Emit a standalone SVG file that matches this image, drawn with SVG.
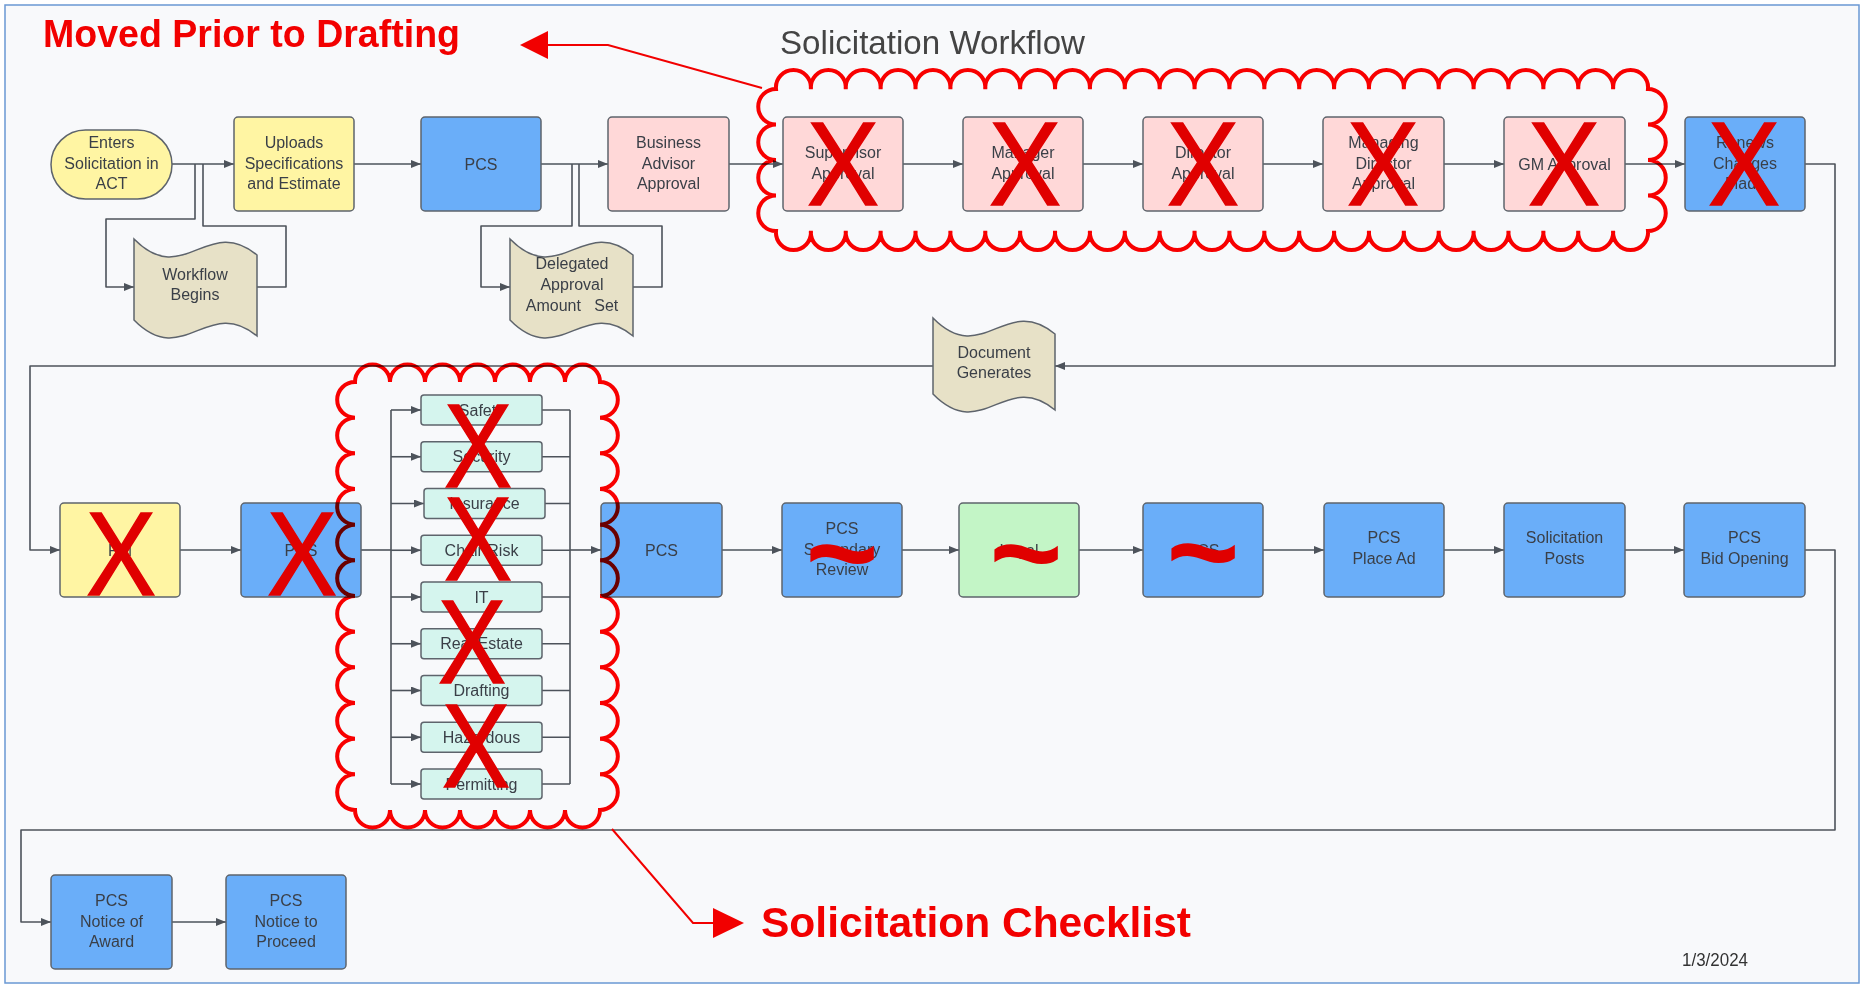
<svg xmlns="http://www.w3.org/2000/svg" width="1864" height="987" viewBox="0 0 1864 987">
<style>
.bg{fill:#f8f9fb;stroke:#6a98d4;stroke-width:1.5}
.n{stroke:#5e646c;stroke-width:1.5}
.y{fill:#fff5a3}.b{fill:#6aaef9}.p{fill:#ffd8d8}.g{fill:#c3f5c6}.c{fill:#d5f5ee}.d{fill:#e7e1c7}
.t{font-family:"Liberation Sans",Arial,sans-serif;font-size:16px;fill:#3a3f47;text-anchor:middle}
.cn{fill:none;stroke:#4d535b;stroke-width:1.6;stroke-linejoin:round}
.x{font-family:"Liberation Sans",Arial,sans-serif;font-size:118px;fill:#e00000;stroke:#e00000;stroke-width:1.5;text-anchor:middle}
.tl{font-family:"Liberation Sans",Arial,sans-serif;font-weight:bold;font-size:125px;fill:#e00000;text-anchor:middle}
.cloud{fill:none;stroke:#ff0000;stroke-width:4;mix-blend-mode:multiply}
.ann{font-family:"Liberation Sans",Arial,sans-serif;font-weight:bold;fill:#f20000}
.ra{fill:none;stroke:#f20000;stroke-width:2}
</style>
<defs>
<marker id="ah" viewBox="0 0 10 8" refX="10" refY="4" markerWidth="10" markerHeight="8" markerUnits="userSpaceOnUse" orient="auto"><path d="M0,0 L10,4 L0,8 z" fill="#4d535b"/></marker>
</defs>
<rect x="0" y="0" width="1864" height="987" fill="#ffffff"/>
<rect class="bg" x="5" y="5" width="1854" height="978"/>
<text x="780" y="54" font-family="Liberation Sans, Arial, sans-serif" font-size="33" fill="#444" textLength="305" lengthAdjust="spacingAndGlyphs">Solicitation Workflow</text>

<g id="connectors">
<path class="cn" d="M172,164 H234" marker-end="url(#ah)"/>
<path class="cn" d="M195,164 V219 H106 V287 H134" marker-end="url(#ah)"/>
<path class="cn" d="M257,287 H286 V226 H203 V164"/>
<path class="cn" d="M354,164 H421" marker-end="url(#ah)"/>
<path class="cn" d="M541,164 H608" marker-end="url(#ah)"/>
<path class="cn" d="M572,164 V226 H481 V287 H510" marker-end="url(#ah)"/>
<path class="cn" d="M633,287 H662 V226 H579 V164"/>
<path class="cn" d="M729,164 H783" marker-end="url(#ah)"/>
<path class="cn" d="M903,164 H963" marker-end="url(#ah)"/>
<path class="cn" d="M1083,164 H1143" marker-end="url(#ah)"/>
<path class="cn" d="M1263,164 H1323" marker-end="url(#ah)"/>
<path class="cn" d="M1444,164 H1504" marker-end="url(#ah)"/>
<path class="cn" d="M1625,164 H1685" marker-end="url(#ah)"/>
<path class="cn" d="M1805,164 H1835 V366 H1055" marker-end="url(#ah)"/>
<path class="cn" d="M933,366 H30 V550 H60" marker-end="url(#ah)"/>
<path class="cn" d="M180,550 H241" marker-end="url(#ah)"/>
<path class="cn" d="M361,550 H391"/>
<path class="cn" d="M391,410 V784"/>
<path class="cn" d="M391,410 H421" marker-end="url(#ah)"/>
<path class="cn" d="M391,456.75 H421" marker-end="url(#ah)"/>
<path class="cn" d="M391,503.5 H424" marker-end="url(#ah)"/>
<path class="cn" d="M391,550.25 H421" marker-end="url(#ah)"/>
<path class="cn" d="M391,597 H421" marker-end="url(#ah)"/>
<path class="cn" d="M391,643.75 H421" marker-end="url(#ah)"/>
<path class="cn" d="M391,690.5 H421" marker-end="url(#ah)"/>
<path class="cn" d="M391,737.25 H421" marker-end="url(#ah)"/>
<path class="cn" d="M391,784 H421" marker-end="url(#ah)"/>
<path class="cn" d="M542,410 H570 M542,456.75 H570 M545,503.5 H570 M542,550.25 H570 M542,597 H570 M542,643.75 H570 M542,690.5 H570 M542,737.25 H570 M542,784 H570"/>
<path class="cn" d="M570,410 V784"/>
<path class="cn" d="M570,550 H601" marker-end="url(#ah)"/>
<path class="cn" d="M722,550 H782" marker-end="url(#ah)"/>
<path class="cn" d="M902,550 H959" marker-end="url(#ah)"/>
<path class="cn" d="M1079,550 H1143" marker-end="url(#ah)"/>
<path class="cn" d="M1263,550 H1324" marker-end="url(#ah)"/>
<path class="cn" d="M1444,550 H1504" marker-end="url(#ah)"/>
<path class="cn" d="M1625,550 H1684" marker-end="url(#ah)"/>
<path class="cn" d="M1805,550 H1835 V830 H21 V922 H51" marker-end="url(#ah)"/>
<path class="cn" d="M172,922 H226" marker-end="url(#ah)"/>
</g>

<g id="enters"><rect class="n y" x="51" y="130" width="121" height="69" rx="34.5"/>
<text class="t"><tspan x="111.5" y="148">Enters</tspan><tspan x="111.5" y="168.5">Solicitation in</tspan><tspan x="111.5" y="189">ACT</tspan></text></g>
<g id="uploads"><rect class="n y" x="234" y="117" width="120" height="94" rx="4"/>
<text class="t"><tspan x="294" y="148">Uploads</tspan><tspan x="294" y="168.5">Specifications</tspan><tspan x="294" y="189">and Estimate</tspan></text></g>
<g id="workflow-begins"><path class="n d" d="M134,239 C183,289 208,214 257,255 L257,336 C208,295 183,370 134,320 z"/>
<text class="t"><tspan x="195" y="280">Workflow</tspan><tspan x="195" y="300">Begins</tspan></text></g>
<g id="pcs1"><rect class="n b" x="421" y="117" width="120" height="94" rx="4"/>
<text class="t" x="481" y="170">PCS</text></g>
<g id="delegated"><path class="n d" d="M510,239 C559,289 584,214 633,255 L633,336 C584,295 559,370 510,320 z"/>
<text class="t" style="white-space:pre"><tspan x="572" y="269">Delegated</tspan><tspan x="572" y="290">Approval</tspan><tspan x="572" y="311">Amount   Set</tspan></text></g>
<g id="business-advisor"><rect class="n p" x="608" y="117" width="121" height="94" rx="4"/>
<text class="t"><tspan x="668.5" y="148">Business</tspan><tspan x="668.5" y="168.5">Advisor</tspan><tspan x="668.5" y="189">Approval</tspan></text></g>
<g id="supervisor"><rect class="n p" x="783" y="117" width="120" height="94" rx="4"/>
<text class="t"><tspan x="843" y="158">Supervisor</tspan><tspan x="843" y="178.5">Approval</tspan></text></g>
<g id="manager"><rect class="n p" x="963" y="117" width="120" height="94" rx="4"/>
<text class="t"><tspan x="1023" y="158">Manager</tspan><tspan x="1023" y="178.5">Approval</tspan></text></g>
<g id="director"><rect class="n p" x="1143" y="117" width="120" height="94" rx="4"/>
<text class="t"><tspan x="1203" y="158">Director</tspan><tspan x="1203" y="178.5">Approval</tspan></text></g>
<g id="managing-director"><rect class="n p" x="1323" y="117" width="121" height="94" rx="4"/>
<text class="t"><tspan x="1383.5" y="148">Managing</tspan><tspan x="1383.5" y="168.5">Director</tspan><tspan x="1383.5" y="189">Approval</tspan></text></g>
<g id="gm"><rect class="n p" x="1504" y="117" width="121" height="94" rx="4"/>
<text class="t" x="1564.5" y="170">GM Approval</text></g>
<g id="renews"><rect class="n b" x="1685" y="117" width="120" height="94" rx="4"/>
<text class="t"><tspan x="1745" y="148">Renews</tspan><tspan x="1745" y="168.5">Changes</tspan><tspan x="1745" y="189">Made</tspan></text></g>
<g id="document-generates"><path class="n d" d="M933,318 C982,368 1006,293 1055,334 L1055,410 C1006,369 982,444 933,394 z"/>
<text class="t"><tspan x="994" y="358">Document</tspan><tspan x="994" y="378">Generates</tspan></text></g>

<g id="pm"><rect class="n y" x="60" y="503" width="120" height="94" rx="4"/>
<text class="t" x="120" y="556">PM</text></g>
<g id="pcs2"><rect class="n b" x="241" y="503" width="120" height="94" rx="4"/>
<text class="t" x="301" y="556">PCS</text></g>
<g id="checklist">
<rect class="n c" x="421" y="395" width="121" height="30" rx="3"/><text class="t" x="481.5" y="415.5">Safety</text>
<rect class="n c" x="421" y="441.75" width="121" height="30" rx="3"/><text class="t" x="481.5" y="462.25">Security</text>
<rect class="n c" x="424" y="488.5" width="121" height="30" rx="3"/><text class="t" x="484.5" y="509">Insurance</text>
<rect class="n c" x="421" y="535.25" width="121" height="30" rx="3"/><text class="t" x="481.5" y="555.75">Chair Risk</text>
<rect class="n c" x="421" y="582" width="121" height="30" rx="3"/><text class="t" x="481.5" y="602.5">IT</text>
<rect class="n c" x="421" y="628.75" width="121" height="30" rx="3"/><text class="t" x="481.5" y="649.25">Real Estate</text>
<rect class="n c" x="421" y="675.5" width="121" height="30" rx="3"/><text class="t" x="481.5" y="696">Drafting</text>
<rect class="n c" x="421" y="722.25" width="121" height="30" rx="3"/><text class="t" x="481.5" y="742.75">Hazardous</text>
<rect class="n c" x="421" y="769" width="121" height="30" rx="3"/><text class="t" x="481.5" y="789.5">Permitting</text>
</g>
<g id="pcs3"><rect class="n b" x="601" y="503" width="121" height="94" rx="4"/>
<text class="t" x="661.5" y="556">PCS</text></g>
<g id="pcs-secondary"><rect class="n b" x="782" y="503" width="120" height="94" rx="4"/>
<text class="t"><tspan x="842" y="534">PCS</tspan><tspan x="842" y="554.5">Secondary</tspan><tspan x="842" y="575">Review</tspan></text></g>
<g id="legal"><rect class="n g" x="959" y="503" width="120" height="94" rx="4"/>
<text class="t" x="1019" y="556">Legal</text></g>
<g id="pcs4"><rect class="n b" x="1143" y="503" width="120" height="94" rx="4"/>
<text class="t" x="1203" y="556">PCS</text></g>
<g id="place-ad"><rect class="n b" x="1324" y="503" width="120" height="94" rx="4"/>
<text class="t"><tspan x="1384" y="543">PCS</tspan><tspan x="1384" y="563.5">Place Ad</tspan></text></g>
<g id="solicitation-posts"><rect class="n b" x="1504" y="503" width="121" height="94" rx="4"/>
<text class="t"><tspan x="1564.5" y="543">Solicitation</tspan><tspan x="1564.5" y="563.5">Posts</tspan></text></g>
<g id="bid-opening"><rect class="n b" x="1684" y="503" width="121" height="94" rx="4"/>
<text class="t"><tspan x="1744.5" y="543">PCS</tspan><tspan x="1744.5" y="563.5">Bid Opening</tspan></text></g>
<g id="notice-award"><rect class="n b" x="51" y="875" width="121" height="94" rx="4"/>
<text class="t"><tspan x="111.5" y="906">PCS</tspan><tspan x="111.5" y="926.5">Notice of</tspan><tspan x="111.5" y="947">Award</tspan></text></g>
<g id="notice-proceed"><rect class="n b" x="226" y="875" width="120" height="94" rx="4"/>
<text class="t"><tspan x="286" y="906">PCS</tspan><tspan x="286" y="926.5">Notice to</tspan><tspan x="286" y="947">Proceed</tspan></text></g>

<g id="strike-marks">
<text class="x" x="843" y="205" textLength="72" lengthAdjust="spacingAndGlyphs">X</text>
<text class="x" x="1025" y="205" textLength="72" lengthAdjust="spacingAndGlyphs">X</text>
<text class="x" x="1203" y="205" textLength="72" lengthAdjust="spacingAndGlyphs">X</text>
<text class="x" x="1383" y="205" textLength="72" lengthAdjust="spacingAndGlyphs">X</text>
<text class="x" x="1564" y="205" textLength="72" lengthAdjust="spacingAndGlyphs">X</text>
<text class="x" x="1744" y="205" textLength="72" lengthAdjust="spacingAndGlyphs">X</text>
<text class="x" x="121" y="595" textLength="70" lengthAdjust="spacingAndGlyphs">X</text>
<text class="x" x="302" y="595" textLength="70" lengthAdjust="spacingAndGlyphs">X</text>
<text class="x" x="478" y="487" textLength="68" lengthAdjust="spacingAndGlyphs">X</text>
<text class="x" x="478" y="580" textLength="68" lengthAdjust="spacingAndGlyphs">X</text>
<text class="x" x="472" y="683" textLength="68" lengthAdjust="spacingAndGlyphs">X</text>
<text class="x" x="476" y="787" textLength="68" lengthAdjust="spacingAndGlyphs">X</text>
<text class="tl" x="842" y="595">~</text>
<text class="tl" x="1026" y="595">~</text>
<text class="tl" x="1203" y="594">~</text>
</g>

<g id="clouds">
<path class="cloud" d="M776,89 a17.5,17.5 0 1,1 34.88,0 a17.5,17.5 0 1,1 34.88,0 a17.5,17.5 0 1,1 34.88,0 a17.5,17.5 0 1,1 34.88,0 a17.5,17.5 0 1,1 34.88,0 a17.5,17.5 0 1,1 34.88,0 a17.5,17.5 0 1,1 34.88,0 a17.5,17.5 0 1,1 34.88,0 a17.5,17.5 0 1,1 34.88,0 a17.5,17.5 0 1,1 34.88,0 a17.5,17.5 0 1,1 34.88,0 a17.5,17.5 0 1,1 34.88,0 a17.5,17.5 0 1,1 34.88,0 a17.5,17.5 0 1,1 34.88,0 a17.5,17.5 0 1,1 34.88,0 a17.5,17.5 0 1,1 34.88,0 a17.5,17.5 0 1,1 34.88,0 a17.5,17.5 0 1,1 34.88,0 a17.5,17.5 0 1,1 34.88,0 a17.5,17.5 0 1,1 34.88,0 a17.5,17.5 0 1,1 34.88,0 a17.5,17.5 0 1,1 34.88,0 a17.5,17.5 0 1,1 34.88,0 a17.5,17.5 0 1,1 34.88,0 a17.5,17.5 0 1,1 34.88,0 a17.5,17.5 0 1,1 0,35.5 a17.5,17.5 0 1,1 0,35.5 a17.5,17.5 0 1,1 0,35.5 a17.5,17.5 0 1,1 0,35.5 a17.5,17.5 0 1,1 -34.88,0 a17.5,17.5 0 1,1 -34.88,0 a17.5,17.5 0 1,1 -34.88,0 a17.5,17.5 0 1,1 -34.88,0 a17.5,17.5 0 1,1 -34.88,0 a17.5,17.5 0 1,1 -34.88,0 a17.5,17.5 0 1,1 -34.88,0 a17.5,17.5 0 1,1 -34.88,0 a17.5,17.5 0 1,1 -34.88,0 a17.5,17.5 0 1,1 -34.88,0 a17.5,17.5 0 1,1 -34.88,0 a17.5,17.5 0 1,1 -34.88,0 a17.5,17.5 0 1,1 -34.88,0 a17.5,17.5 0 1,1 -34.88,0 a17.5,17.5 0 1,1 -34.88,0 a17.5,17.5 0 1,1 -34.88,0 a17.5,17.5 0 1,1 -34.88,0 a17.5,17.5 0 1,1 -34.88,0 a17.5,17.5 0 1,1 -34.88,0 a17.5,17.5 0 1,1 -34.88,0 a17.5,17.5 0 1,1 -34.88,0 a17.5,17.5 0 1,1 -34.88,0 a17.5,17.5 0 1,1 -34.88,0 a17.5,17.5 0 1,1 -34.88,0 a17.5,17.5 0 1,1 -34.88,0 a17.5,17.5 0 1,1 0,-35.5 a17.5,17.5 0 1,1 0,-35.5 a17.5,17.5 0 1,1 0,-35.5 a17.5,17.5 0 1,1 0,-35.5 z"/>
<path class="cloud" d="M355,382 a17.5,17.5 0 1,1 35,0 a17.5,17.5 0 1,1 35,0 a17.5,17.5 0 1,1 35,0 a17.5,17.5 0 1,1 35,0 a17.5,17.5 0 1,1 35,0 a17.5,17.5 0 1,1 35,0 a17.5,17.5 0 1,1 35,0 a17.5,17.5 0 1,1 0,35.67 a17.5,17.5 0 1,1 0,35.67 a17.5,17.5 0 1,1 0,35.67 a17.5,17.5 0 1,1 0,35.67 a17.5,17.5 0 1,1 0,35.67 a17.5,17.5 0 1,1 0,35.67 a17.5,17.5 0 1,1 0,35.67 a17.5,17.5 0 1,1 0,35.67 a17.5,17.5 0 1,1 0,35.67 a17.5,17.5 0 1,1 0,35.67 a17.5,17.5 0 1,1 0,35.67 a17.5,17.5 0 1,1 0,35.63 a17.5,17.5 0 1,1 -35,0 a17.5,17.5 0 1,1 -35,0 a17.5,17.5 0 1,1 -35,0 a17.5,17.5 0 1,1 -35,0 a17.5,17.5 0 1,1 -35,0 a17.5,17.5 0 1,1 -35,0 a17.5,17.5 0 1,1 -35,0 a17.5,17.5 0 1,1 0,-35.67 a17.5,17.5 0 1,1 0,-35.67 a17.5,17.5 0 1,1 0,-35.67 a17.5,17.5 0 1,1 0,-35.67 a17.5,17.5 0 1,1 0,-35.67 a17.5,17.5 0 1,1 0,-35.67 a17.5,17.5 0 1,1 0,-35.67 a17.5,17.5 0 1,1 0,-35.67 a17.5,17.5 0 1,1 0,-35.67 a17.5,17.5 0 1,1 0,-35.67 a17.5,17.5 0 1,1 0,-35.67 a17.5,17.5 0 1,1 0,-35.63 z"/>
</g>

<g id="annotations">
<text class="ann" x="43" y="47" font-size="38" textLength="417" lengthAdjust="spacingAndGlyphs">Moved Prior to Drafting</text>
<path class="ra" d="M762,88 L608,45 H546"/>
<path d="M520,45 L548,31 L548,59 z" fill="#f20000"/>
<path class="ra" d="M612,829 L693,923 H714"/>
<path d="M744,923 L713,908 L713,938 z" fill="#f20000"/>
<text class="ann" x="761" y="937" font-size="42" textLength="430" lengthAdjust="spacingAndGlyphs">Solicitation Checklist</text>
<text x="1682" y="966" font-family="Liberation Sans, Arial, sans-serif" font-size="18" fill="#333" textLength="66" lengthAdjust="spacingAndGlyphs">1/3/2024</text>
</g>
</svg>
